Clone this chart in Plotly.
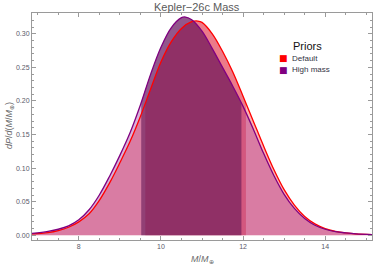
import numpy as np
import plotly.graph_objects as go

# Default prior (red) density
x_default = [6.86, 7.25, 7.5, 7.75, 8.0, 8.25, 8.5, 8.75, 9.0, 9.25, 9.5, 9.75, 10.0, 10.25,
             10.5, 10.75, 10.9, 11.0, 11.25, 11.5, 11.75, 12.0, 12.25, 12.5, 12.75, 13.0,
             13.25, 13.5, 13.75, 14.0, 14.25, 14.5, 14.75, 15.14]
y_default = [0.002, 0.004, 0.007, 0.012, 0.020, 0.032, 0.052, 0.078, 0.108, 0.140, 0.177,
             0.218, 0.258, 0.288, 0.308, 0.318, 0.319, 0.317, 0.300, 0.274, 0.243, 0.207,
             0.170, 0.133, 0.098, 0.068, 0.045, 0.028, 0.017, 0.010, 0.006, 0.0035, 0.002, 0.001]

# High mass prior (purple) density
x_high = [6.86, 7.25, 7.5, 7.75, 8.0, 8.25, 8.5, 8.75, 9.0, 9.25, 9.5, 9.75, 10.0, 10.25,
          10.5, 10.6, 10.75, 11.0, 11.25, 11.5, 11.75, 12.0, 12.25, 12.5, 12.75, 13.0,
          13.25, 13.5, 13.75, 14.0, 14.25, 14.5, 14.75, 15.14]
y_high = [0.003, 0.006, 0.009, 0.014, 0.023, 0.038, 0.060, 0.088, 0.119, 0.153, 0.194,
          0.240, 0.280, 0.309, 0.324, 0.325, 0.321, 0.304, 0.278, 0.250, 0.222, 0.192,
          0.158, 0.122, 0.089, 0.061, 0.040, 0.025, 0.015, 0.009, 0.0055, 0.0035, 0.002, 0.001]

# credible intervals
interval_default = [9.62, 12.07]
interval_high = [9.52, 11.96]

series_names = ["Default", "High mass"]
x_ticks = [8, 10, 12, 14]
y_ticks = [0.0, 0.05, 0.10, 0.15, 0.20, 0.25, 0.30]

RED = "rgb(255,0,0)"
PURPLE = "rgb(128,0,128)"


def interval_subset(xs, ys, lo, hi):
    xs = np.asarray(xs, float)
    ys = np.asarray(ys, float)
    mask = (xs > lo) & (xs < hi)
    xi = np.concatenate([[lo], xs[mask], [hi]])
    yi = np.concatenate([[np.interp(lo, xs, ys)], ys[mask], [np.interp(hi, xs, ys)]])
    return xi, yi


fig = go.Figure()

# light fills (whole curve)
fig.add_trace(go.Scatter(x=x_default, y=y_default, mode="lines", line=dict(width=0, shape="spline"),
                         fill="tozeroy", fillcolor="rgba(255,0,0,0.30)", hoverinfo="skip", showlegend=False))
fig.add_trace(go.Scatter(x=x_high, y=y_high, mode="lines", line=dict(width=0, shape="spline"),
                         fill="tozeroy", fillcolor="rgba(128,0,128,0.30)", hoverinfo="skip", showlegend=False))

# dark fills (intervals)
xd, yd = interval_subset(x_default, y_default, *interval_default)
fig.add_trace(go.Scatter(x=xd, y=yd, mode="lines", line=dict(width=0, shape="spline"),
                         fill="tozeroy", fillcolor="rgba(200,20,60,0.35)", hoverinfo="skip", showlegend=False))
xh, yh = interval_subset(x_high, y_high, *interval_high)
fig.add_trace(go.Scatter(x=xh, y=yh, mode="lines", line=dict(width=0, shape="spline"),
                         fill="tozeroy", fillcolor="rgba(95,20,85,0.58)", hoverinfo="skip", showlegend=False))

# outlines
fig.add_trace(go.Scatter(x=x_default, y=y_default, mode="lines",
                         line=dict(color=RED, width=1.3, shape="spline"), showlegend=False))
fig.add_trace(go.Scatter(x=x_high, y=y_high, mode="lines",
                         line=dict(color=PURPLE, width=1.3, shape="spline"), showlegend=False))

axis_common = dict(showgrid=False, zeroline=False, showline=True, linecolor="#9a9a9a", linewidth=1,
                   mirror="allticks", ticks="inside", ticklen=4, tickwidth=1, tickcolor="#9a9a9a",
                   tickfont=dict(family="Liberation Sans, Arial, sans-serif", size=7, color="#5a5a6a"))

fig.update_xaxes(range=[6.86, 15.14], tickvals=x_ticks, ticktext=[str(t) for t in x_ticks],
                 minor=dict(dtick=0.5, ticks="inside", ticklen=2, tickcolor="#9a9a9a"),
                 **axis_common)
fig.update_yaxes(range=[-0.007, 0.331], tickvals=y_ticks, ticktext=[f"{t:.2f}" for t in y_ticks],
                 minor=dict(dtick=0.01, ticks="inside", ticklen=2, tickcolor="#9a9a9a"),
                 **axis_common)

# plot area: x 32..372, y 13..240
W, H = 374, 269
L, R, T, B = 32, 2, 13, 29
pw, ph = W - L - R, H - T - B


def px(xp):
    return (xp - L) / pw


def py(yp):
    return (H - B - yp) / ph


FONT = "Liberation Sans, Arial, sans-serif"


def ann(text, xp, yp, size, color, xanchor="center", family=FONT, **kw):
    return dict(text=text, x=px(xp), y=py(yp), xref="paper", yref="paper", showarrow=False,
                xanchor=xanchor, yanchor="middle", font=dict(family=family, size=size, color=color), **kw)


annotations = [
    ann("Kepler\u221226c Mass", 197, 7, 11, "#5a5a5a"),
    ann("<i>M</i>/<i>M</i><sub>\u2295</sub>", 202, 259, 9, "#6a6a6a"),
    ann("<i>dP</i>/<i>d</i>(<i>M</i>/<i>M</i><sub>\u2295</sub>)", 10, 125, 9, "#6a6a6a", textangle=-90),
    ann("Priors", 291, 46, 11, "#111111", xanchor="left"),
]
for name, col, yp in zip(series_names, [RED, PURPLE], [58, 70]):
    annotations.append(ann("\u25A0", 283.5, yp, 9, col, family="DejaVu Sans"))
    annotations.append(ann(name, 290, yp, 8, "#333344", xanchor="left"))

fig.update_layout(width=W, height=H, margin=dict(l=L, r=R, t=T, b=B, pad=0),
                  paper_bgcolor="white", plot_bgcolor="white", showlegend=False,
                  annotations=annotations)

fig.write_html("out.html", config={"displayModeBar": False},
               post_script="document.body.style.margin='0';document.body.style.overflow='hidden';")
